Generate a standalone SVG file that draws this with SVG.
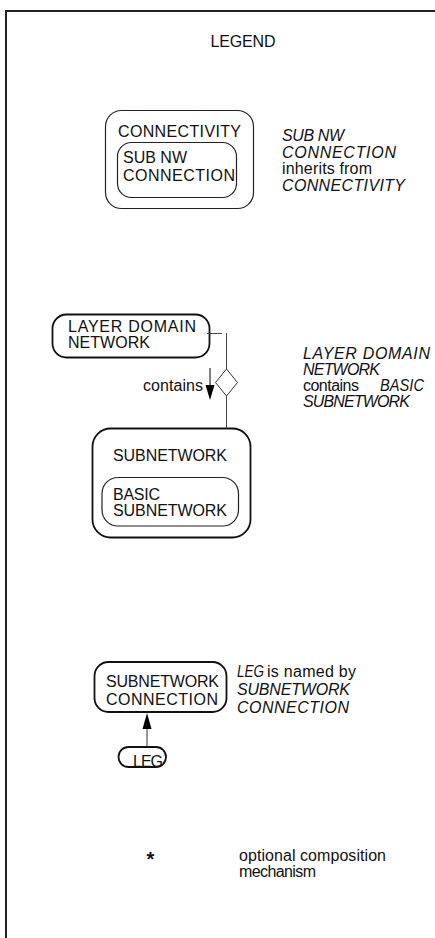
<svg xmlns="http://www.w3.org/2000/svg" width="435" height="938" viewBox="0 0 435 938">
  <style>
    text { font-family: "Liberation Sans", Arial, sans-serif; font-size: 16px; fill: #111; }
    .it { font-style: italic; }
    .box { fill: none; stroke: #222; stroke-width: 1.2; }
    .thick { fill: none; stroke: #111; stroke-width: 1.8; }
    .link { fill: none; stroke: #444; stroke-width: 1; }
    .head { fill: #000; stroke: none; }
  </style>

  <!-- sheet frame -->
  <rect x="6" y="11" width="460" height="960" fill="none" stroke="#222" stroke-width="2"/>

  <text x="243" y="47" text-anchor="middle" textLength="65" lengthAdjust="spacing">LEGEND</text>

  <!-- inheritance -->
  <g id="connectivity">
    <rect class="box" x="105.5" y="110.5" width="148" height="98" rx="16"/>
    <text x="118" y="137" textLength="123" lengthAdjust="spacing">CONNECTIVITY</text>
  </g>
  <g id="sub-nw-connection">
    <rect class="box" x="117.5" y="142.5" width="119" height="55" rx="14"/>
    <text x="123" y="163" textLength="64" lengthAdjust="spacing">SUB NW</text>
    <text x="123" y="181" textLength="112" lengthAdjust="spacing">CONNECTION</text>
  </g>
  <g id="note-inherits">
    <text class="it" x="282" y="141" textLength="62" lengthAdjust="spacing">SUB NW</text>
    <text class="it" x="282" y="158" textLength="114" lengthAdjust="spacing">CONNECTION</text>
    <text x="282" y="174" textLength="90" lengthAdjust="spacing">inherits from</text>
    <text class="it" x="282" y="191" textLength="123" lengthAdjust="spacing">CONNECTIVITY</text>
  </g>

  <!-- composition -->
  <g id="layer-domain-network">
    <rect class="thick" x="52.5" y="314.5" width="157" height="43" rx="14"/>
    <text x="68" y="332" textLength="128" lengthAdjust="spacing">LAYER DOMAIN</text>
    <text x="68" y="348" textLength="82" lengthAdjust="spacing">NETWORK</text>
  </g>
  <g id="subnetwork">
    <rect class="thick" x="92.5" y="428.5" width="158" height="109" rx="18"/>
    <text x="113" y="461" textLength="114" lengthAdjust="spacing">SUBNETWORK</text>
  </g>
  <g id="basic-subnetwork">
    <rect class="box" x="102" y="477.5" width="136.5" height="48.5" rx="16"/>
    <text x="113" y="500" textLength="47" lengthAdjust="spacing">BASIC</text>
    <text x="113" y="516" textLength="114" lengthAdjust="spacing">SUBNETWORK</text>
  </g>
  <g id="note-contains">
    <text class="it" x="303" y="359" textLength="127" lengthAdjust="spacing">LAYER DOMAIN</text>
    <text class="it" x="303" y="375" textLength="77" lengthAdjust="spacing">NETWORK</text>
    <text x="303" y="391" textLength="56" lengthAdjust="spacing">contains</text>
    <text class="it" x="380" y="391" textLength="44" lengthAdjust="spacingAndGlyphs">BASIC</text>
    <text class="it" x="303" y="407" textLength="107" lengthAdjust="spacing">SUBNETWORK</text>
  </g>

  <!-- naming -->
  <g id="subnetwork-connection">
    <rect class="thick" x="94.5" y="662" width="132" height="50" rx="14"/>
    <text x="106" y="687" textLength="113" lengthAdjust="spacing">SUBNETWORK</text>
    <text x="106" y="705" textLength="112" lengthAdjust="spacing">CONNECTION</text>
  </g>
  <g id="leg">
    <rect class="thick" x="118.5" y="747" width="47.5" height="20" rx="10"/>
    <text x="133" y="767" textLength="30" lengthAdjust="spacing">LEG</text>
  </g>
  <g id="note-named">
    <text class="it" x="237" y="677" textLength="27" lengthAdjust="spacingAndGlyphs">LEG</text>
    <text x="267" y="677" textLength="89" lengthAdjust="spacing">is named by</text>
    <text class="it" x="237" y="695" textLength="113" lengthAdjust="spacing">SUBNETWORK</text>
    <text class="it" x="237" y="713" textLength="112" lengthAdjust="spacing">CONNECTION</text>
  </g>

  <!-- optional composition -->
  <g id="optional">
    <text x="150.5" y="866" text-anchor="middle" style="font-size:20px;font-weight:bold">*</text>
    <text x="239" y="861" textLength="147" lengthAdjust="spacing">optional composition</text>
    <text x="239" y="877" textLength="77" lengthAdjust="spacing">mechanism</text>
  </g>

  <!-- connectors -->
  <g id="connectors">
    <!-- containment: layer domain network to subnetwork -->
    <line class="link" x1="207" y1="333.5" x2="222" y2="333.5"/>
    <line class="link" x1="226.5" y1="333" x2="226.5" y2="369"/>
    <polygon points="226.5,369 237.5,382.5 226.5,396 215.5,382.5" fill="#fff" stroke="#333" stroke-width="1"/>
    <line class="link" x1="226.5" y1="396" x2="226.5" y2="428"/>
    <!-- contains direction arrow and its label -->
    <line stroke="#000" stroke-width="1" x1="210" y1="368" x2="210" y2="386"/>
    <polygon class="head" points="205.5,385 214.5,385 210,400"/>
    <text x="143" y="391" textLength="60" lengthAdjust="spacing">contains</text>
    <!-- naming arrow -->
    <line stroke="#333" stroke-width="1" x1="147" y1="747" x2="147" y2="728"/>
    <polygon class="head" points="142.5,729 151.5,729 147,713"/>
  </g>
</svg>
